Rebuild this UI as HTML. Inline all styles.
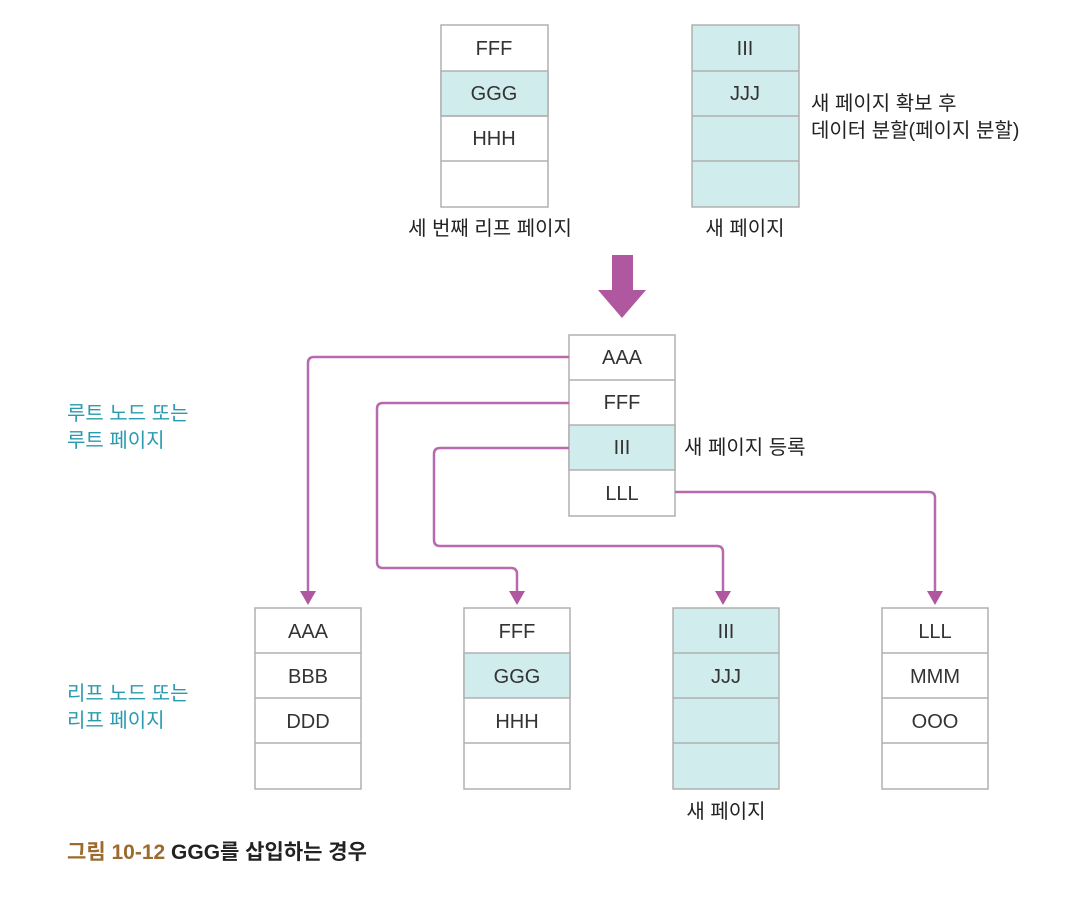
<!DOCTYPE html>
<html><head><meta charset="utf-8"><style>
body{margin:0;background:#fff}
text{font-family:"Liberation Sans","Noto Sans CJK KR",sans-serif}
</style></head><body>
<svg width="1069" height="899" xmlns="http://www.w3.org/2000/svg">
<g stroke="#b0b0b0" stroke-width="1.5">
<rect x="441" y="25" width="107" height="182" fill="#fff"/>
<rect x="441" y="71" width="107" height="45" fill="#d0ecec"/>
<line x1="441" y1="116" x2="548" y2="116"/><line x1="441" y1="161" x2="548" y2="161"/>
<rect x="692" y="25" width="107" height="182" fill="#d0ecec"/>
<line x1="692" y1="71" x2="799" y2="71"/><line x1="692" y1="116" x2="799" y2="116"/><line x1="692" y1="161" x2="799" y2="161"/>
<rect x="569" y="335" width="106" height="181" fill="#fff"/>
<rect x="569" y="425" width="106" height="45" fill="#d0ecec"/>
<line x1="569" y1="380" x2="675" y2="380"/>
<rect x="255" y="608" width="106" height="181" fill="#fff"/>
<line x1="255" y1="653" x2="361" y2="653"/><line x1="255" y1="698" x2="361" y2="698"/><line x1="255" y1="743" x2="361" y2="743"/>
<rect x="464" y="608" width="106" height="181" fill="#fff"/>
<rect x="464" y="653" width="106" height="45" fill="#d0ecec"/>
<line x1="464" y1="743" x2="570" y2="743"/>
<rect x="673" y="608" width="106" height="181" fill="#d0ecec"/>
<line x1="673" y1="653" x2="779" y2="653"/><line x1="673" y1="698" x2="779" y2="698"/><line x1="673" y1="743" x2="779" y2="743"/>
<rect x="882" y="608" width="106" height="181" fill="#fff"/>
<line x1="882" y1="653" x2="988" y2="653"/><line x1="882" y1="698" x2="988" y2="698"/><line x1="882" y1="743" x2="988" y2="743"/>
</g>
<path d="M612,255 H633 V290 H646 L622,318 L598,290 H612 Z" fill="#b0589f"/>
<g fill="none" stroke="#b86aae" stroke-width="2.5">
<path d="M569,357 H314 Q308,357 308,363 V592"/>
<path d="M569,403 H383 Q377,403 377,409 V562 Q377,568 383,568 H511 Q517,568 517,574 V592"/>
<path d="M569,448 H440 Q434,448 434,454 V540 Q434,546 440,546 H717 Q723,546 723,552 V592"/>
<path d="M675,492 H929 Q935,492 935,498 V592"/>
</g>
<g fill="#b0589f">
<path d="M300,591 H316 L308,605 Z"/><path d="M509,591 H525 L517,605 Z"/><path d="M715,591 H731 L723,605 Z"/><path d="M927,591 H943 L935,605 Z"/>
</g>
<g font-size="20" fill="#333" text-anchor="middle">
<text x="494" y="55">FFF</text><text x="494" y="100">GGG</text><text x="494" y="145">HHH</text>
<text x="745" y="55">III</text><text x="745" y="100">JJJ</text>
<text x="622" y="364">AAA</text><text x="622" y="409">FFF</text><text x="622" y="454">III</text><text x="622" y="500">LLL</text>
<text x="308" y="638">AAA</text><text x="308" y="683">BBB</text><text x="308" y="728">DDD</text>
<text x="517" y="638">FFF</text><text x="517" y="683">GGG</text><text x="517" y="728">HHH</text>
<text x="726" y="638">III</text><text x="726" y="683">JJJ</text>
<text x="935" y="638">LLL</text><text x="935" y="683">MMM</text><text x="935" y="728">OOO</text>
</g>
<g font-size="20" fill="#222">
<text x="490" y="235" text-anchor="middle">세 번째 리프 페이지</text>
<text x="745" y="235" text-anchor="middle">새 페이지</text>
<text x="811" y="110">새 페이지 확보 후</text>
<text x="811" y="137">데이터 분할(페이지 분할)</text>
<text x="684" y="454">새 페이지 등록</text>
<text x="726" y="818" text-anchor="middle">새 페이지</text>
</g>
<g font-size="20" fill="#2a9ab0">
<text x="67" y="420">루트 노드 또는</text><text x="67" y="447">루트 페이지</text>
<text x="67" y="700">리프 노드 또는</text><text x="67" y="727">리프 페이지</text>
</g>
<text x="67" y="859" font-size="21" font-weight="bold"><tspan fill="#9a6a2e">그림 10-12</tspan><tspan fill="#222"> GGG를 삽입하는 경우</tspan></text>
</svg>
</body></html>
